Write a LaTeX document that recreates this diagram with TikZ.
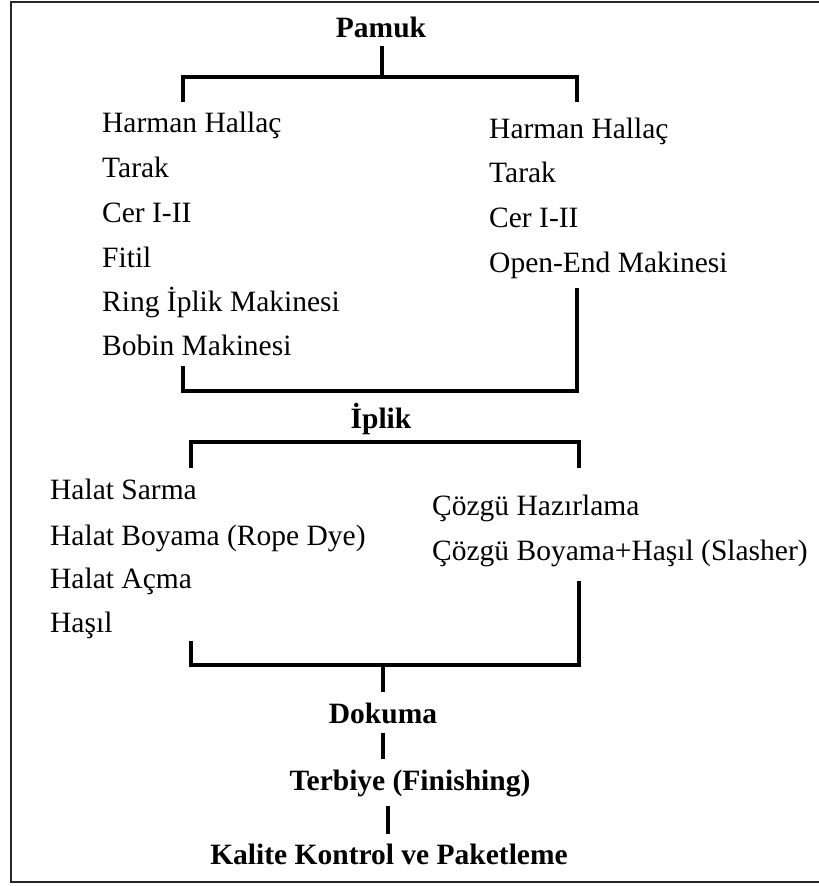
\documentclass[tikz,border=0pt]{standalone}
\usepackage{fontspec}
\setmainfont{Liberation Serif}
\tikzset{
	item/.style={anchor=base west, inner sep=0pt, font=\fontsize{29.5}{35}\selectfont},
	head/.style={anchor=base, inner sep=0pt, font=\fontsize{29.5}{35}\selectfont\bfseries},
	bar/.style={line width=3.3pt, line cap=rect},
	frame/.style={line width=2.2pt, draw=black!85}
}
\begin{document}
\begin{tikzpicture}[x=1pt, y=-1pt]
			\useasboundingbox (0, 0) rectangle (819, 886);
			\draw[frame] (819, 2) -- (11, 2) -- (11, 882) -- (819, 882);

			\draw (381, 37) 	node[head] 	(pamuk) 	{Pamuk};
			\draw (102, 132) 	node[item] 	(rh1) 		{Harman Hallaç};
			\draw (102, 177) 	node[item] 	(rt1) 		{Tarak};
			\draw (102, 222) 	node[item] 	(rc1) 		{Cer I-II};
			\draw (102, 267) 	node[item] 	(rf1) 		{Fitil};
			\draw (102, 311) 	node[item] 	(rr1) 		{Ring İplik Makinesi};
			\draw (102, 355) 	node[item] 	(rb1) 		{Bobin Makinesi};
			\draw (489, 138) 	node[item] 	(oh1) 		{Harman Hallaç};
			\draw (489, 182) 	node[item] 	(ot1) 		{Tarak};
			\draw (489, 227) 	node[item] 	(oc1) 		{Cer I-II};
			\draw (489, 272) 	node[item] 	(oo1) 		{Open-End Makinesi};
			\draw (381, 428) 	node[head] 	(iplik) 	{İplik};
			\draw (50, 499) 	node[item] 	(hs2) 		{Halat Sarma};
			\draw (50, 545) 	node[item] 	(hb2) 		{Halat Boyama (Rope Dye)};
			\draw (50, 588) 	node[item] 	(ha2) 		{Halat Açma};
			\draw (50, 632) 	node[item] 	(hh2) 		{Haşıl};
			\draw (432, 515) 	node[item] 	(ch2) 		{Çözgü Hazırlama};
			\draw (432, 560) 	node[item] 	(cb2) 		{Çözgü Boyama+Haşıl (Slasher)};
			\draw (383, 723) 	node[head] 	(dokuma) 	{Dokuma};
			\draw (410, 790) 	node[head] 	(terbiye) 	{Terbiye (Finishing)};
			\draw (389, 864) 	node[head] 	(kalite) 	{Kalite Kontrol ve Paketleme};

			\coordinate (p_s) at (382, 48);
			\coordinate (p_m) at (382, 77);
			\coordinate (r_t) at (183, 100);
			\coordinate (o_t) at (577, 100);
			\coordinate (r_b) at (183, 368);
			\coordinate (o_b) at (577, 290);
			\coordinate (ro_l) at (183, 391);
			\coordinate (ro_r) at (577, 391);
			\coordinate (i_l) at (191, 442);
			\coordinate (i_r) at (579, 442);
			\coordinate (h_t) at (191, 466);
			\coordinate (c_t) at (579, 466);
			\coordinate (h_b) at (191, 643);
			\coordinate (c_b) at (579, 583);
			\coordinate (hc_l) at (191, 665);
			\coordinate (hc_r) at (579, 665);
			\coordinate (hc_m) at (383, 665);
			\coordinate (d_n) at (383, 690);
			\coordinate (d_s) at (383, 735);
			\coordinate (t_n) at (383, 757);
			\coordinate (t_s) at (388, 808);
			\coordinate (k_n) at (388, 832);

			\draw[bar] (p_s) -- (p_m);
			\draw[bar] (r_t) |- (p_m) -| (o_t);
			\draw[bar] (r_b) |- (ro_l) -- (ro_r) |- (o_b);
			\draw[bar] (h_t) -- (i_l) -- (i_r) -- (c_t);
			\draw[bar] (h_b) -- (hc_l) -- (hc_r) -- (c_b);
			\draw[bar] (hc_m) -- (d_n);
			\draw[bar] (d_s) -- (t_n);
			\draw[bar] (t_s) -- (k_n);
		\end{tikzpicture}
\end{document}
